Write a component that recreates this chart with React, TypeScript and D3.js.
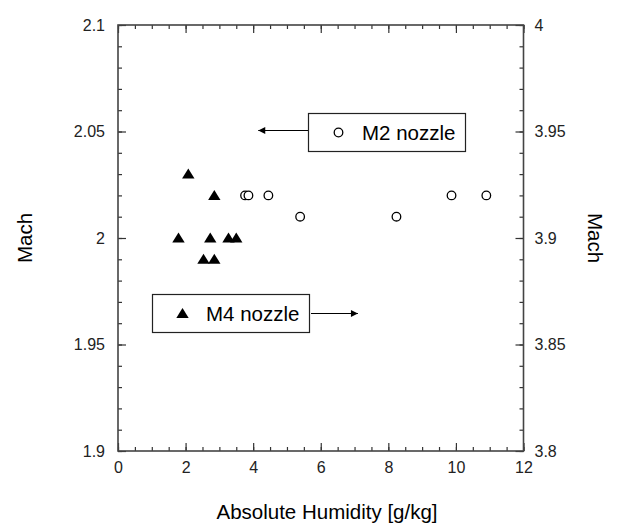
import React, { useRef, useEffect } from 'react';
import * as d3 from 'd3';

// humidity [g/kg] and Mach for the two nozzles
const m4Humidity = [2.08, 2.85, 1.79, 2.73, 3.27, 3.5, 2.53, 2.85];
const m4Mach = [2.03, 2.02, 2.0, 2.0, 2.0, 2.0, 1.99, 1.99];
const m2Humidity = [3.76, 3.86, 4.45, 5.39, 8.24, 9.87, 10.9];
const m2Mach = [2.02, 2.02, 2.02, 2.01, 2.01, 2.02, 2.02];

const xTicks = [0, 2, 4, 6, 8, 10, 12];
const yLeftTicks = [1.9, 1.95, 2, 2.05, 2.1];
const yRightTicks = [3.8, 3.85, 3.9, 3.95, 4];

const W = 622;
const H = 525;
const margin = { left: 118, right: 98.5, top: 25, bottom: 74 };
const FONT = "'Liberation Sans', Arial, sans-serif";

export default function App() {
    const ref = useRef(null);

    useEffect(() => {
        if (!ref.current) return;
        const svg = d3.select(ref.current);
        svg.selectAll('*').remove();

        const x = d3.scaleLinear().domain([0, 12]).range([margin.left, W - margin.right]);
        const y = d3.scaleLinear().domain([1.9, 2.1]).range([H - margin.bottom, margin.top]);
        const y2 = d3.scaleLinear().domain([3.8, 4.0]).range([H - margin.bottom, margin.top]);

        const xMinor = d3.range(0, 12.001, 0.5);
        const yMinor = d3.range(0, 21).map(i => 1.9 + i * 0.01);
        const y2Minor = d3.range(0, 21).map(i => 3.8 + i * 0.01);
        const fmt = (d: any) => String(+(+d).toFixed(2));

        const style = (g: any) => {
            g.select('.domain').remove();
            g.selectAll('line').attr('stroke', '#333').attr('stroke-width', 1.2);
            g.selectAll('text').attr('font-family', FONT).attr('font-size', 16).attr('fill', '#222');
        };

        const bottom = H - margin.bottom;
        const right = W - margin.right;

        // minor ticks
        svg.append('g').attr('transform', `translate(0,${bottom})`)
            .call(d3.axisBottom(x).tickValues(xMinor).tickSize(-4).tickFormat(() => '')).call(style);
        svg.append('g').attr('transform', `translate(0,${margin.top})`)
            .call(d3.axisTop(x).tickValues(xMinor).tickSize(-4).tickFormat(() => '')).call(style);
        svg.append('g').attr('transform', `translate(${margin.left},0)`)
            .call(d3.axisLeft(y).tickValues(yMinor).tickSize(-4).tickFormat(() => '')).call(style);
        svg.append('g').attr('transform', `translate(${right},0)`)
            .call(d3.axisRight(y2).tickValues(y2Minor).tickSize(-4).tickFormat(() => '')).call(style);

        // major ticks + labels
        svg.append('g').attr('transform', `translate(0,${bottom})`)
            .call(d3.axisBottom(x).tickValues(xTicks).tickSize(-8).tickPadding(11).tickFormat(fmt)).call(style);
        svg.append('g').attr('transform', `translate(0,${margin.top})`)
            .call(d3.axisTop(x).tickValues(xTicks).tickSize(-8).tickFormat(() => '')).call(style);
        svg.append('g').attr('transform', `translate(${margin.left},0)`)
            .call(d3.axisLeft(y).tickValues(yLeftTicks).tickSize(-8).tickPadding(13).tickFormat(fmt)).call(style);
        svg.append('g').attr('transform', `translate(${right},0)`)
            .call(d3.axisRight(y2).tickValues(yRightTicks).tickSize(-8).tickPadding(11).tickFormat(fmt)).call(style);

        // frame
        svg.append('rect')
            .attr('x', margin.left).attr('y', margin.top)
            .attr('width', right - margin.left).attr('height', bottom - margin.top)
            .attr('fill', 'none').attr('stroke', '#444').attr('stroke-width', 1.6);

        const tri = (cx: number, cy: number) =>
            `M${cx},${cy - 5.5}L${cx + 6.2},${cy + 4.5}L${cx - 6.2},${cy + 4.5}Z`;

        // data
        svg.append('g').selectAll('path').data(m4Humidity)
            .enter().append('path')
            .attr('d', (d, i) => tri(x(d), y(m4Mach[i])))
            .attr('fill', '#000');

        svg.append('g').selectAll('circle').data(m2Humidity)
            .enter().append('circle')
            .attr('cx', d => x(d)).attr('cy', (d, i) => y(m2Mach[i]))
            .attr('r', 4.3)
            .attr('fill', '#fff').attr('stroke', '#000').attr('stroke-width', 1.3);

        // legend boxes with arrows
        const defs = svg.append('defs');
        defs.append('marker').attr('id', 'ah')
            .attr('viewBox', '0 0 10 10').attr('refX', 10).attr('refY', 5)
            .attr('markerWidth', 12).attr('markerHeight', 7).attr('markerUnits', 'userSpaceOnUse')
            .attr('orient', 'auto')
            .append('path').attr('d', 'M0,0L10,5L0,10Z').attr('fill', '#000');

        const big = (t: any) => t.attr('font-family', FONT).attr('font-size', 20.5).attr('fill', '#000');

        // M2 box
        svg.append('rect').attr('x', 308.5).attr('y', 113.5).attr('width', 157).attr('height', 38)
            .attr('fill', '#fff').attr('stroke', '#222').attr('stroke-width', 1.2);
        svg.append('circle').attr('cx', 338.5).attr('cy', 132.5).attr('r', 4.3)
            .attr('fill', '#fff').attr('stroke', '#000').attr('stroke-width', 1.3);
        svg.append('text').attr('x', 362).attr('y', 140).text('M2 nozzle').call(big);
        svg.append('line').attr('x1', 308).attr('y1', 130.5).attr('x2', x(4.15)).attr('y2', 130.5)
            .attr('stroke', '#000').attr('stroke-width', 1.2).attr('marker-end', 'url(#ah)');

        // M4 box
        svg.append('rect').attr('x', 152.5).attr('y', 294.5).attr('width', 157).attr('height', 38)
            .attr('fill', '#fff').attr('stroke', '#222').attr('stroke-width', 1.2);
        svg.append('path').attr('d', tri(182.5, 313.5)).attr('fill', '#000');
        svg.append('text').attr('x', 206).attr('y', 321).text('M4 nozzle').call(big);
        svg.append('line').attr('x1', 311).attr('y1', 313.5).attr('x2', x(7.1)).attr('y2', 313.5)
            .attr('stroke', '#000').attr('stroke-width', 1.2).attr('marker-end', 'url(#ah)');

        // axis titles
        const midY = (margin.top + bottom) / 2;
        svg.append('text').attr('transform', `translate(32,${midY}) rotate(-90)`)
            .attr('text-anchor', 'middle').text('Mach').call(big);
        svg.append('text').attr('transform', `translate(588,${midY}) rotate(90)`)
            .attr('text-anchor', 'middle').text('Mach').call(big);
        svg.append('text').attr('x', 327).attr('y', 519)
            .attr('text-anchor', 'middle').text('Absolute Humidity [g/kg]').call(big);
    }, []);

    return (
        <svg
            ref={ref}
            width={W}
            height={H}
            style={{ position: 'absolute', left: 0, top: 0, background: '#fff', display: 'block' }}
        />
    );
}
